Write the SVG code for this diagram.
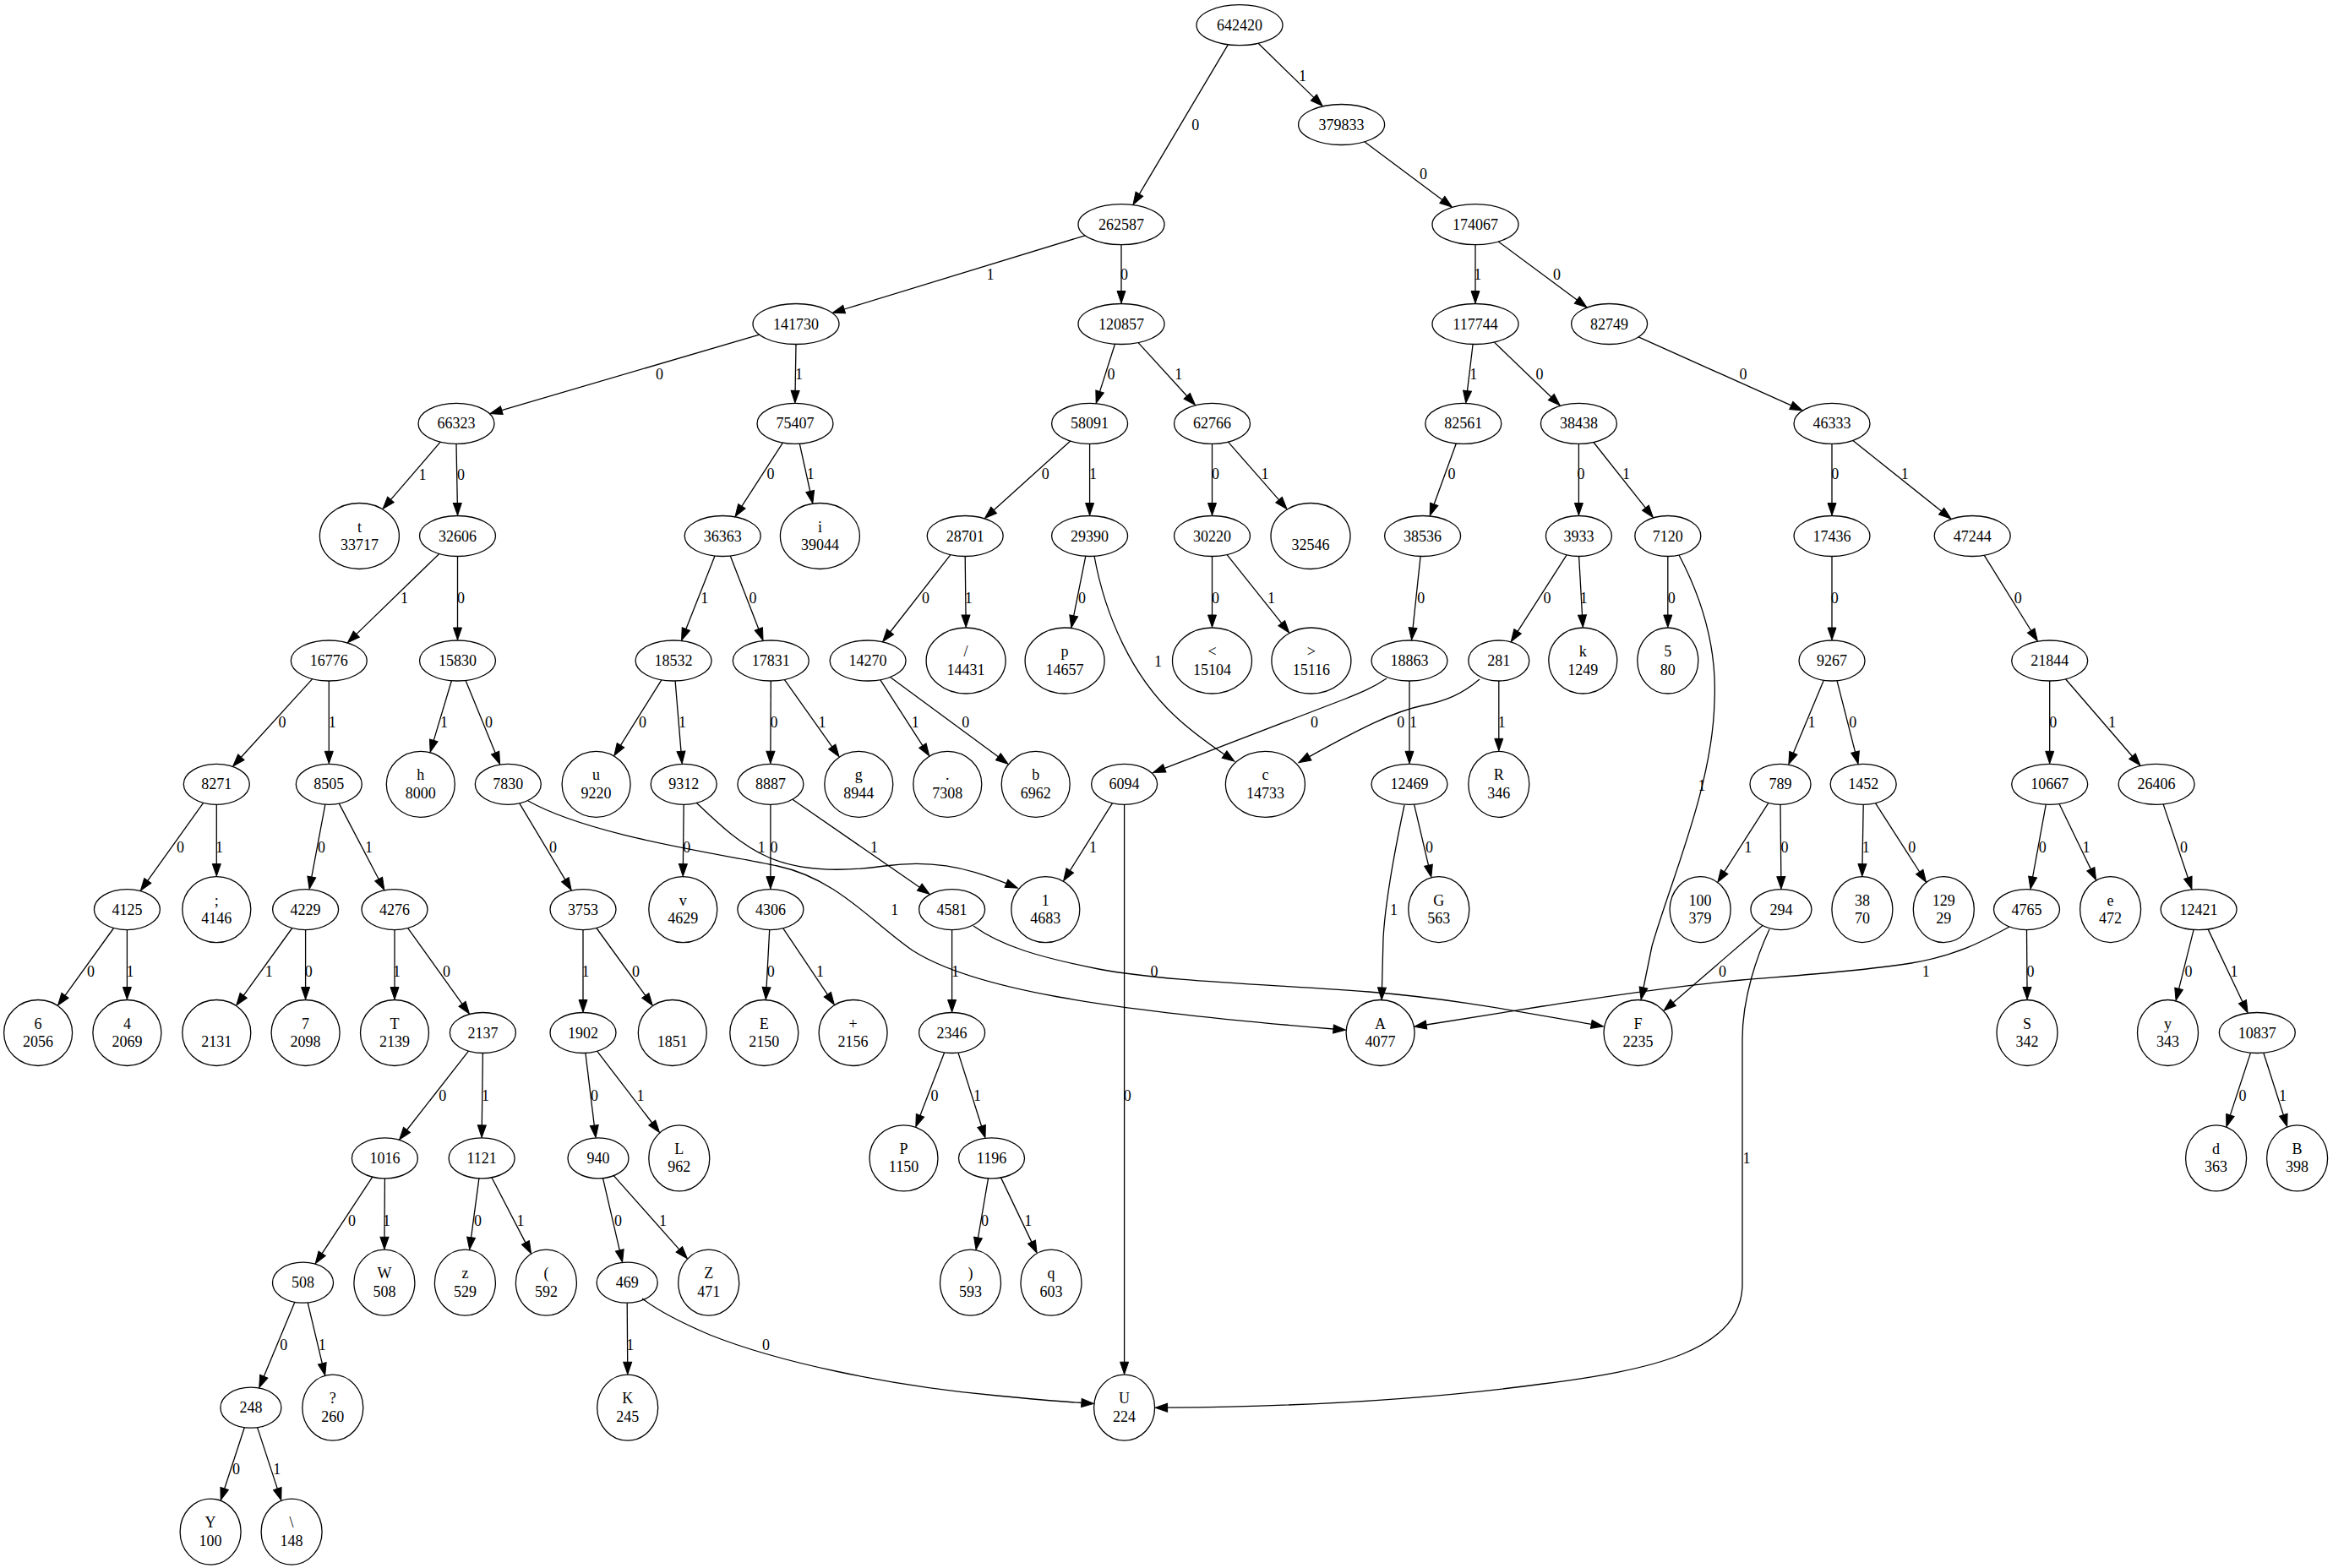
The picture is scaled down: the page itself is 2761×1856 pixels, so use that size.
<svg xmlns="http://www.w3.org/2000/svg" width="2761" height="1856" viewBox="0 0 2761 1856">
<style>
.node ellipse{fill:none;stroke:#000;stroke-width:1.3}
text{font-family:"Liberation Serif","Times New Roman",serif;font-size:18px;text-anchor:middle;fill:#000}
.edge path{fill:none;stroke:#000;stroke-width:1.3;marker-end:url(#arr)}
</style>
<defs>
<marker id="arr" markerUnits="userSpaceOnUse" markerWidth="16" markerHeight="12" refX="0.5" refY="6" orient="auto" overflow="visible">
<path d="M0.5,1 L15,6 L0.5,11 z" fill="#000" stroke="#000" stroke-width="1"/>
</marker>
</defs>
<rect width="2761" height="1856" fill="#fff"/>
<g id="edges">
<g class="edge"><path d="M1453.3,52.8 L1348.4,229.7"/><text x="1414.8" y="154.3">0</text></g>
<g class="edge"><path d="M1489.1,51.3 L1554.8,115.4"/><text x="1541.6" y="96.2">1</text></g>
<g class="edge"><path d="M1614.8,167.8 L1706.8,236.4"/><text x="1684.5" y="212.4">0</text></g>
<g class="edge"><path d="M1284.2,278.8 L999.1,366"/><text x="1172.1" y="331">1</text></g>
<g class="edge"><path d="M1327,289.7 L1327,344.5"/><text x="1330.6" y="331">0</text></g>
<g class="edge"><path d="M1746,289.7 L1746,344.5"/><text x="1748.8" y="331">1</text></g>
<g class="edge"><path d="M1773.3,286 L1866.3,355.1"/><text x="1842.5" y="331">0</text></g>
<g class="edge"><path d="M898.7,396.2 L593.8,485.6"/><text x="780.6" y="448.9">0</text></g>
<g class="edge"><path d="M942,407.5 L941.1,462.4"/><text x="945.4" y="448.9">1</text></g>
<g class="edge"><path d="M1319.5,407.2 L1301.6,463.4"/><text x="1315" y="448.9">0</text></g>
<g class="edge"><path d="M1347.1,405.6 L1404.7,468.7"/><text x="1394.7" y="448.9">1</text></g>
<g class="edge"><path d="M1743.1,407.5 L1736.5,462.6"/><text x="1743.8" y="448.9">1</text></g>
<g class="edge"><path d="M1768.4,405.1 L1835.8,470"/><text x="1822" y="448.9">0</text></g>
<g class="edge"><path d="M1939.1,398.9 L2119.8,479.9"/><text x="2063" y="448.9">0</text></g>
<g class="edge"><path d="M521.2,523.2 L462.5,591.4"/><text x="500" y="567.5">1</text></g>
<g class="edge"><path d="M540,525.4 L541.3,595.5"/><text x="545.5" y="567.5">0</text></g>
<g class="edge"><path d="M926.4,524.1 L877.9,599.2"/><text x="911.9" y="566.7">0</text></g>
<g class="edge"><path d="M946.3,525.2 L958.7,581.5"/><text x="959.2" y="566.7">1</text></g>
<g class="edge"><path d="M1266.7,522.1 L1176.2,603.8"/><text x="1237.3" y="566.7">0</text></g>
<g class="edge"><path d="M1289.6,525.4 L1289.6,595.5"/><text x="1293.6" y="566.7">1</text></g>
<g class="edge"><path d="M1434.5,525.4 L1434.5,595.5"/><text x="1438.5" y="566.7">0</text></g>
<g class="edge"><path d="M1453.5,523.1 L1513.5,591.6"/><text x="1497" y="566.7">1</text></g>
<g class="edge"><path d="M1723.3,525 L1697.2,596.8"/><text x="1718" y="566.7">0</text></g>
<g class="edge"><path d="M1868.4,525.4 L1868.4,595.5"/><text x="1871" y="566.7">0</text></g>
<g class="edge"><path d="M1885.9,523.5 L1947.4,601.2"/><text x="1924.6" y="566.7">1</text></g>
<g class="edge"><path d="M2168,525.4 L2168,595.5"/><text x="2171.7" y="566.7">0</text></g>
<g class="edge"><path d="M2192.9,521.4 L2297.6,605.1"/><text x="2254.3" y="566.7">1</text></g>
<g class="edge"><path d="M519.8,655.5 L421.8,750.6"/><text x="478.6" y="714">1</text></g>
<g class="edge"><path d="M541.5,658.5 L541.5,743"/><text x="545.5" y="714">0</text></g>
<g class="edge"><path d="M846,658 L811.9,744.5"/><text x="833.8" y="714">1</text></g>
<g class="edge"><path d="M864.3,658 L897.8,744.5"/><text x="890.9" y="714">0</text></g>
<g class="edge"><path d="M1124.9,656.7 L1053.6,748"/><text x="1095.4" y="714">0</text></g>
<g class="edge"><path d="M1142.2,658.5 L1143,728"/><text x="1146.3" y="714">1</text></g>
<g class="edge"><path d="M1284.8,658.4 L1270.7,728.8"/><text x="1280.6" y="714">0</text></g>
<g class="edge"><path d="M1295,658 C1308,730 1340,800 1390,847 C1410,866 1430,880 1449,893"/><text x="1370.4" y="788.8">1</text></g>
<g class="edge"><path d="M1434.5,658.5 L1434.5,728"/><text x="1438.5" y="714">0</text></g>
<g class="edge"><path d="M1452.1,656.6 L1516.7,737.7"/><text x="1504.6" y="714">1</text></g>
<g class="edge"><path d="M1681.1,658.5 L1672.1,743.1"/><text x="1681.8" y="714">0</text></g>
<g class="edge"><path d="M1854.1,656.8 L1796.1,747.3"/><text x="1830.9" y="714">0</text></g>
<g class="edge"><path d="M1868.6,658.5 L1872.5,728"/><text x="1874.2" y="714">1</text></g>
<g class="edge"><path d="M1973.8,658.5 L1973.8,728"/><text x="1978.2" y="714">0</text></g>
<g class="edge"><path d="M1987,657 C2015,710 2032,770 2029,830 C2027,930 1978,1040 1955,1120 L1945,1169"/><text x="2014" y="935.5">1</text></g>
<g class="edge"><path d="M2168,658.5 L2168,743"/><text x="2171.3" y="714">0</text></g>
<g class="edge"><path d="M2348.3,657.3 L2403.7,746.5"/><text x="2388.2" y="714">0</text></g>
<g class="edge"><path d="M369.7,803.6 L285.4,896.3"/><text x="333.9" y="861.2">0</text></g>
<g class="edge"><path d="M389.3,806 L389.3,889.3"/><text x="393.3" y="861.2">1</text></g>
<g class="edge"><path d="M534.4,805.7 L513.3,876.4"/><text x="525.4" y="861.2">1</text></g>
<g class="edge"><path d="M551.1,805.5 L586.1,891.1"/><text x="578.6" y="861.2">0</text></g>
<g class="edge"><path d="M782.9,804.8 L734.5,882.2"/><text x="760.5" y="861.2">0</text></g>
<g class="edge"><path d="M799.1,806 L806,889.4"/><text x="807.4" y="861.2">1</text></g>
<g class="edge"><path d="M912.3,806 L911.9,889.3"/><text x="915.9" y="861.2">0</text></g>
<g class="edge"><path d="M928.3,804.4 L984.7,883.9"/><text x="973" y="861.2">1</text></g>
<g class="edge"><path d="M1041.7,804.7 L1091.9,882.6"/><text x="1083.3" y="861.2">1</text></g>
<g class="edge"><path d="M1053.5,801.4 L1181.4,895.7"/><text x="1142.7" y="861.2">0</text></g>
<g class="edge"><path d="M1641,803 C1625,814 1610,820 1590,828 L1378.2,909.3"/><text x="1555.4" y="861.2">0</text></g>
<g class="edge"><path d="M1668,806 L1668,889.3"/><text x="1672.4" y="861.2">1</text></g>
<g class="edge"><path d="M1751,804 C1730,822 1710,830 1684,835 C1650,842 1610,862 1549.5,895.6"/><text x="1657.7" y="861.2">0</text></g>
<g class="edge"><path d="M1773.8,806 L1773.8,874.3"/><text x="1777.3" y="861.2">1</text></g>
<g class="edge"><path d="M2158.3,805.3 L2122.4,891.3"/><text x="2144" y="861.2">1</text></g>
<g class="edge"><path d="M2174,805.7 L2195.5,890.1"/><text x="2192.7" y="861.2">0</text></g>
<g class="edge"><path d="M2425.7,806 L2425.7,889.3"/><text x="2429.7" y="861.2">0</text></g>
<g class="edge"><path d="M2444.5,803.8 L2523.5,895.2"/><text x="2499.4" y="861.2">1</text></g>
<g class="edge"><path d="M240.6,950.3 L174.8,1042.4"/><text x="213.4" y="1009.4">0</text></g>
<g class="edge"><path d="M256.3,952.3 L256.3,1022.6"/><text x="259.4" y="1009.4">1</text></g>
<g class="edge"><path d="M384.9,952.2 L368.8,1038"/><text x="380.4" y="1009.4">0</text></g>
<g class="edge"><path d="M401.3,951.1 L448.1,1040.5"/><text x="436.6" y="1009.4">1</text></g>
<g class="edge"><path d="M614.8,950.8 L668.8,1041.2"/><text x="654.5" y="1009.4">0</text></g>
<g class="edge"><path d="M625,948 C700,990 850,1010 920,1025 C990,1040 1030,1090 1080,1125 C1150,1170 1300,1195 1578,1218"/><text x="1058.8" y="1082.6">1</text></g>
<g class="edge"><path d="M809.2,952.3 L808.4,1022.6"/><text x="812.8" y="1009.4">0</text></g>
<g class="edge"><path d="M824,950 C845,970 875,1000 910,1015 C945,1030 990,1033 1047,1025 C1100,1018 1140,1025 1191,1045.7"/><text x="901.2" y="1009.4">1</text></g>
<g class="edge"><path d="M911.9,952.3 L911.9,1037.6"/><text x="915.9" y="1009.4">0</text></g>
<g class="edge"><path d="M937.9,946.2 L1088.3,1050.2"/><text x="1034.6" y="1009.4">1</text></g>
<g class="edge"><path d="M1316.5,950.7 L1266.3,1030.5"/><text x="1293.6" y="1009.4">1</text></g>
<g class="edge"><path d="M1330.6,952.3 L1330.6,1612.2"/><text x="1334.2" y="1303.1">0</text></g>
<g class="edge"><path d="M1662,953 C1652,1000 1640,1060 1637,1110 L1635.5,1169"/><text x="1649.6" y="1082.6">1</text></g>
<g class="edge"><path d="M1673.6,952.1 L1690.5,1024.2"/><text x="1691.6" y="1009.4">0</text></g>
<g class="edge"><path d="M2092.9,950.4 L2040.7,1031.9"/><text x="2068.8" y="1009.4">1</text></g>
<g class="edge"><path d="M2107,952.3 L2107.8,1037.6"/><text x="2111.9" y="1009.4">0</text></g>
<g class="edge"><path d="M2205.2,952.3 L2204,1022.6"/><text x="2208.3" y="1009.4">1</text></g>
<g class="edge"><path d="M2219.5,950.6 L2271.7,1032"/><text x="2262.8" y="1009.4">0</text></g>
<g class="edge"><path d="M2421.3,952.2 L2405.6,1038"/><text x="2417.3" y="1009.4">0</text></g>
<g class="edge"><path d="M2437,951.5 L2474.3,1028.6"/><text x="2469" y="1009.4">1</text></g>
<g class="edge"><path d="M2560.1,951.9 L2589.3,1038.8"/><text x="2584.6" y="1009.4">0</text></g>
<g class="edge"><path d="M134.6,1098.5 L77,1178.3"/><text x="107.6" y="1155.7">0</text></g>
<g class="edge"><path d="M150.4,1100.6 L150.4,1168.5"/><text x="154" y="1155.7">1</text></g>
<g class="edge"><path d="M345.8,1098.5 L288.2,1178.3"/><text x="318.3" y="1155.7">1</text></g>
<g class="edge"><path d="M361.6,1100.6 L361.6,1168.5"/><text x="365.2" y="1155.7">0</text></g>
<g class="edge"><path d="M467,1100.6 L467,1168.5"/><text x="469.6" y="1155.7">1</text></g>
<g class="edge"><path d="M482.7,1098.6 L547,1188.3"/><text x="528.6" y="1155.7">0</text></g>
<g class="edge"><path d="M690,1100.6 L690,1183.5"/><text x="692.9" y="1155.7">1</text></g>
<g class="edge"><path d="M705.9,1098.5 L763.8,1178.4"/><text x="752.5" y="1155.7">0</text></g>
<g class="edge"><path d="M910.7,1100.6 L907.1,1168.6"/><text x="912.3" y="1155.7">0</text></g>
<g class="edge"><path d="M926.8,1098.8 L979.3,1177.2"/><text x="970.4" y="1155.7">1</text></g>
<g class="edge"><path d="M1126.6,1100.6 L1126.6,1183.5"/><text x="1130.6" y="1155.7">1</text></g>
<g class="edge"><path d="M1152,1096 C1185,1120 1230,1133 1300,1147 C1380,1162 1500,1165 1620,1174 C1720,1182 1800,1198 1883.3,1212.4"/><text x="1365.9" y="1155.7">0</text></g>
<g class="edge"><path d="M2085.9,1095.6 L1980.1,1186.7"/><text x="2038.5" y="1155.7">0</text></g>
<g class="edge"><path d="M2094,1100 C2080,1130 2062,1180 2062,1230 L2062,1520 C2062,1600 1950,1622 1826,1638 C1700,1655 1550,1665 1381.6,1666.2"/><text x="2067" y="1377.3">1</text></g>
<g class="edge"><path d="M2398.5,1100.6 L2399,1168.5"/><text x="2403" y="1155.7">0</text></g>
<g class="edge"><path d="M2378,1097 C2350,1112 2320,1130 2262,1140 C2200,1150 2120,1155 2061,1160 C1980,1167 1900,1180 1826,1191 C1770,1200 1720,1208 1688,1213"/><text x="2279.3" y="1155.7">1</text></g>
<g class="edge"><path d="M2596.1,1100.4 L2578.6,1170.3"/><text x="2590" y="1155.7">0</text></g>
<g class="edge"><path d="M2613.1,1099.9 L2653.9,1185.7"/><text x="2644" y="1155.7">1</text></g>
<g class="edge"><path d="M554.5,1244.1 L481.5,1337.5"/><text x="523.7" y="1303.1">0</text></g>
<g class="edge"><path d="M571.4,1246.5 L570.3,1331.9"/><text x="574.6" y="1303.1">1</text></g>
<g class="edge"><path d="M692.9,1246.4 L703.3,1332.1"/><text x="703.4" y="1303.1">0</text></g>
<g class="edge"><path d="M706.6,1244.2 L771.7,1329"/><text x="757.9" y="1303.1">1</text></g>
<g class="edge"><path d="M1117.6,1245.9 L1089,1320.3"/><text x="1106.1" y="1303.1">0</text></g>
<g class="edge"><path d="M1134,1246.1 L1161.6,1333"/><text x="1156.5" y="1303.1">1</text></g>
<g class="edge"><path d="M2663.5,1246.1 L2639.4,1319.9"/><text x="2653.9" y="1303.1">0</text></g>
<g class="edge"><path d="M2678.8,1246.2 L2702.3,1319.7"/><text x="2701.6" y="1303.1">1</text></g>
<g class="edge"><path d="M440.8,1393.2 L381.2,1483.7"/><text x="416.5" y="1451.2">0</text></g>
<g class="edge"><path d="M455.4,1394.9 L455,1464.2"/><text x="457.6" y="1451.2">1</text></g>
<g class="edge"><path d="M566.9,1394.8 L557.6,1464.7"/><text x="565.6" y="1451.2">0</text></g>
<g class="edge"><path d="M581.9,1393.8 L621.9,1470.9"/><text x="616.1" y="1451.2">1</text></g>
<g class="edge"><path d="M713.5,1394.6 L733.3,1479.9"/><text x="731.5" y="1451.2">0</text></g>
<g class="edge"><path d="M726.3,1391.6 L803.8,1478.9"/><text x="784.6" y="1451.2">1</text></g>
<g class="edge"><path d="M1169.5,1394.8 L1157.5,1465"/><text x="1165.4" y="1451.2">0</text></g>
<g class="edge"><path d="M1184.5,1393.9 L1220.9,1470.1"/><text x="1216.8" y="1451.2">1</text></g>
<g class="edge"><path d="M348.9,1541.3 L312.3,1629.2"/><text x="335.7" y="1598.4">0</text></g>
<g class="edge"><path d="M364.2,1541.9 L381.3,1613.8"/><text x="381.3" y="1598.4">1</text></g>
<g class="edge"><path d="M742.2,1542.2 L742.7,1612.2"/><text x="745.8" y="1598.4">1</text></g>
<g class="edge"><path d="M760,1537 C778,1551 800,1563 840,1580 C920,1612 1050,1640 1180,1652 C1230,1657 1255,1659 1279.9,1660.5"/><text x="906.5" y="1598.4">0</text></g>
<g class="edge"><path d="M289.3,1689.7 L265.7,1762"/><text x="279.5" y="1745.3">0</text></g>
<g class="edge"><path d="M304.6,1689.6 L328.3,1762.1"/><text x="327.7" y="1745.3">1</text></g>
</g>
<g id="nodes">
<g id="n642420" class="node"><ellipse cx="1467" cy="29.7" rx="51" ry="24"/><text x="1467" y="35.7">642420</text></g>
<g id="n379833" class="node"><ellipse cx="1587.6" cy="147.5" rx="51" ry="24"/><text x="1587.6" y="153.5">379833</text></g>
<g id="n262587" class="node"><ellipse cx="1327" cy="265.7" rx="51" ry="24"/><text x="1327" y="271.7">262587</text></g>
<g id="n174067" class="node"><ellipse cx="1746" cy="265.7" rx="51" ry="24"/><text x="1746" y="271.7">174067</text></g>
<g id="n141730" class="node"><ellipse cx="942" cy="383.5" rx="51" ry="24"/><text x="942" y="389.5">141730</text></g>
<g id="n120857" class="node"><ellipse cx="1327" cy="383.5" rx="51" ry="24"/><text x="1327" y="389.5">120857</text></g>
<g id="n117744" class="node"><ellipse cx="1746" cy="383.5" rx="51" ry="24"/><text x="1746" y="389.5">117744</text></g>
<g id="n82749" class="node"><ellipse cx="1904.6" cy="383.5" rx="45" ry="24"/><text x="1904.6" y="389.5">82749</text></g>
<g id="n66323" class="node"><ellipse cx="540" cy="501.4" rx="45" ry="24"/><text x="540" y="507.4">66323</text></g>
<g id="n75407" class="node"><ellipse cx="941" cy="501.4" rx="45" ry="24"/><text x="941" y="507.4">75407</text></g>
<g id="n58091" class="node"><ellipse cx="1289.6" cy="501.4" rx="45" ry="24"/><text x="1289.6" y="507.4">58091</text></g>
<g id="n62766" class="node"><ellipse cx="1434.5" cy="501.4" rx="45" ry="24"/><text x="1434.5" y="507.4">62766</text></g>
<g id="n82561" class="node"><ellipse cx="1731.8" cy="501.4" rx="45" ry="24"/><text x="1731.8" y="507.4">82561</text></g>
<g id="n38438" class="node"><ellipse cx="1868.4" cy="501.4" rx="45" ry="24"/><text x="1868.4" y="507.4">38438</text></g>
<g id="n46333" class="node"><ellipse cx="2168" cy="501.4" rx="45" ry="24"/><text x="2168" y="507.4">46333</text></g>
<g id="leaf-t" class="node"><ellipse cx="425.4" cy="634.5" rx="47" ry="39"/><text x="425.4" y="629.5">t</text><text x="425.4" y="651">33717</text></g>
<g id="n32606" class="node"><ellipse cx="541.5" cy="634.5" rx="45" ry="24"/><text x="541.5" y="640.5">32606</text></g>
<g id="n36363" class="node"><ellipse cx="855.2" cy="634.5" rx="45" ry="24"/><text x="855.2" y="640.5">36363</text></g>
<g id="leaf-i" class="node"><ellipse cx="970.4" cy="634.5" rx="47" ry="39"/><text x="970.4" y="629.5">i</text><text x="970.4" y="651">39044</text></g>
<g id="n28701" class="node"><ellipse cx="1142.2" cy="634.5" rx="45" ry="24"/><text x="1142.2" y="640.5">28701</text></g>
<g id="n29390" class="node"><ellipse cx="1289.6" cy="634.5" rx="45" ry="24"/><text x="1289.6" y="640.5">29390</text></g>
<g id="n30220" class="node"><ellipse cx="1434.5" cy="634.5" rx="45" ry="24"/><text x="1434.5" y="640.5">30220</text></g>
<g id="leaf-space" class="node"><ellipse cx="1551" cy="634.5" rx="47" ry="39"/><text x="1551" y="651">32546</text></g>
<g id="n38536" class="node"><ellipse cx="1683.6" cy="634.5" rx="45" ry="24"/><text x="1683.6" y="640.5">38536</text></g>
<g id="n3933" class="node"><ellipse cx="1868.4" cy="634.5" rx="39" ry="24"/><text x="1868.4" y="640.5">3933</text></g>
<g id="n7120" class="node"><ellipse cx="1973.8" cy="634.5" rx="39" ry="24"/><text x="1973.8" y="640.5">7120</text></g>
<g id="n17436" class="node"><ellipse cx="2168" cy="634.5" rx="45" ry="24"/><text x="2168" y="640.5">17436</text></g>
<g id="n47244" class="node"><ellipse cx="2334.2" cy="634.5" rx="45" ry="24"/><text x="2334.2" y="640.5">47244</text></g>
<g id="n16776" class="node"><ellipse cx="389.3" cy="782" rx="45" ry="24"/><text x="389.3" y="788">16776</text></g>
<g id="n15830" class="node"><ellipse cx="541.5" cy="782" rx="45" ry="24"/><text x="541.5" y="788">15830</text></g>
<g id="n18532" class="node"><ellipse cx="797.1" cy="782" rx="45" ry="24"/><text x="797.1" y="788">18532</text></g>
<g id="n17831" class="node"><ellipse cx="912.3" cy="782" rx="45" ry="24"/><text x="912.3" y="788">17831</text></g>
<g id="n14270" class="node"><ellipse cx="1027.1" cy="782" rx="45" ry="24"/><text x="1027.1" y="788">14270</text></g>
<g id="leaf-slash" class="node"><ellipse cx="1143.1" cy="782" rx="47" ry="39"/><text x="1143.1" y="777">/</text><text x="1143.1" y="798.5">14431</text></g>
<g id="leaf-p" class="node"><ellipse cx="1260.1" cy="782" rx="47" ry="39"/><text x="1260.1" y="777">p</text><text x="1260.1" y="798.5">14657</text></g>
<g id="leaf-lt" class="node"><ellipse cx="1434.5" cy="782" rx="47" ry="39"/><text x="1434.5" y="777">&lt;</text><text x="1434.5" y="798.5">15104</text></g>
<g id="leaf-gt" class="node"><ellipse cx="1551.9" cy="782" rx="47" ry="39"/><text x="1551.9" y="777">&gt;</text><text x="1551.9" y="798.5">15116</text></g>
<g id="n18863" class="node"><ellipse cx="1668" cy="782" rx="45" ry="24"/><text x="1668" y="788">18863</text></g>
<g id="n281" class="node"><ellipse cx="1773.8" cy="782" rx="36" ry="24"/><text x="1773.8" y="788">281</text></g>
<g id="leaf-k" class="node"><ellipse cx="1873.3" cy="782" rx="40.5" ry="39"/><text x="1873.3" y="777">k</text><text x="1873.3" y="798.5">1249</text></g>
<g id="leaf-5" class="node"><ellipse cx="1973.8" cy="782" rx="36" ry="39"/><text x="1973.8" y="777">5</text><text x="1973.8" y="798.5">80</text></g>
<g id="n9267" class="node"><ellipse cx="2168" cy="782" rx="39" ry="24"/><text x="2168" y="788">9267</text></g>
<g id="n21844" class="node"><ellipse cx="2425.7" cy="782" rx="45" ry="24"/><text x="2425.7" y="788">21844</text></g>
<g id="n8271" class="node"><ellipse cx="256.3" cy="928.3" rx="39" ry="24"/><text x="256.3" y="934.3">8271</text></g>
<g id="n8505" class="node"><ellipse cx="389.3" cy="928.3" rx="39" ry="24"/><text x="389.3" y="934.3">8505</text></g>
<g id="leaf-h" class="node"><ellipse cx="497.8" cy="928.3" rx="40.5" ry="39"/><text x="497.8" y="923.3">h</text><text x="497.8" y="944.8">8000</text></g>
<g id="n7830" class="node"><ellipse cx="601.3" cy="928.3" rx="39" ry="24"/><text x="601.3" y="934.3">7830</text></g>
<g id="leaf-u" class="node"><ellipse cx="705.6" cy="928.3" rx="40.5" ry="39"/><text x="705.6" y="923.3">u</text><text x="705.6" y="944.8">9220</text></g>
<g id="n9312" class="node"><ellipse cx="809.2" cy="928.3" rx="39" ry="24"/><text x="809.2" y="934.3">9312</text></g>
<g id="n8887" class="node"><ellipse cx="911.9" cy="928.3" rx="39" ry="24"/><text x="911.9" y="934.3">8887</text></g>
<g id="leaf-g" class="node"><ellipse cx="1016.3" cy="928.3" rx="40.5" ry="39"/><text x="1016.3" y="923.3">g</text><text x="1016.3" y="944.8">8944</text></g>
<g id="leaf-dot" class="node"><ellipse cx="1121.3" cy="928.3" rx="40.5" ry="39"/><text x="1121.3" y="923.3">.</text><text x="1121.3" y="944.8">7308</text></g>
<g id="leaf-b" class="node"><ellipse cx="1225.7" cy="928.3" rx="40.5" ry="39"/><text x="1225.7" y="923.3">b</text><text x="1225.7" y="944.8">6962</text></g>
<g id="n6094" class="node"><ellipse cx="1330.6" cy="928.3" rx="39" ry="24"/><text x="1330.6" y="934.3">6094</text></g>
<g id="leaf-c" class="node"><ellipse cx="1497.4" cy="928.3" rx="47" ry="39"/><text x="1497.4" y="923.3">c</text><text x="1497.4" y="944.8">14733</text></g>
<g id="n12469" class="node"><ellipse cx="1668" cy="928.3" rx="45" ry="24"/><text x="1668" y="934.3">12469</text></g>
<g id="leaf-R" class="node"><ellipse cx="1773.8" cy="928.3" rx="36" ry="39"/><text x="1773.8" y="923.3">R</text><text x="1773.8" y="944.8">346</text></g>
<g id="n789" class="node"><ellipse cx="2107" cy="928.3" rx="36" ry="24"/><text x="2107" y="934.3">789</text></g>
<g id="n1452" class="node"><ellipse cx="2205.2" cy="928.3" rx="39" ry="24"/><text x="2205.2" y="934.3">1452</text></g>
<g id="n10667" class="node"><ellipse cx="2425.7" cy="928.3" rx="45" ry="24"/><text x="2425.7" y="934.3">10667</text></g>
<g id="n26406" class="node"><ellipse cx="2552.1" cy="928.3" rx="45" ry="24"/><text x="2552.1" y="934.3">26406</text></g>
<g id="n4125" class="node"><ellipse cx="150.4" cy="1076.6" rx="39" ry="24"/><text x="150.4" y="1082.6">4125</text></g>
<g id="leaf-semicolon" class="node"><ellipse cx="256.3" cy="1076.6" rx="40.5" ry="39"/><text x="256.3" y="1071.6">;</text><text x="256.3" y="1093.1">4146</text></g>
<g id="n4229" class="node"><ellipse cx="361.6" cy="1076.6" rx="39" ry="24"/><text x="361.6" y="1082.6">4229</text></g>
<g id="n4276" class="node"><ellipse cx="467" cy="1076.6" rx="39" ry="24"/><text x="467" y="1082.6">4276</text></g>
<g id="n3753" class="node"><ellipse cx="690" cy="1076.6" rx="39" ry="24"/><text x="690" y="1082.6">3753</text></g>
<g id="leaf-v" class="node"><ellipse cx="808.3" cy="1076.6" rx="40.5" ry="39"/><text x="808.3" y="1071.6">v</text><text x="808.3" y="1093.1">4629</text></g>
<g id="n4306" class="node"><ellipse cx="911.9" cy="1076.6" rx="39" ry="24"/><text x="911.9" y="1082.6">4306</text></g>
<g id="n4581" class="node"><ellipse cx="1126.6" cy="1076.6" rx="39" ry="24"/><text x="1126.6" y="1082.6">4581</text></g>
<g id="leaf-1" class="node"><ellipse cx="1237.3" cy="1076.6" rx="40.5" ry="39"/><text x="1237.3" y="1071.6">1</text><text x="1237.3" y="1093.1">4683</text></g>
<g id="leaf-G" class="node"><ellipse cx="1702.8" cy="1076.6" rx="36" ry="39"/><text x="1702.8" y="1071.6">G</text><text x="1702.8" y="1093.1">563</text></g>
<g id="leaf-100" class="node"><ellipse cx="2012.1" cy="1076.6" rx="36" ry="39"/><text x="2012.1" y="1071.6">100</text><text x="2012.1" y="1093.1">379</text></g>
<g id="n294" class="node"><ellipse cx="2107.9" cy="1076.6" rx="36" ry="24"/><text x="2107.9" y="1082.6">294</text></g>
<g id="leaf-38" class="node"><ellipse cx="2203.9" cy="1076.6" rx="36" ry="39"/><text x="2203.9" y="1071.6">38</text><text x="2203.9" y="1093.1">70</text></g>
<g id="leaf-129" class="node"><ellipse cx="2300.3" cy="1076.6" rx="36" ry="39"/><text x="2300.3" y="1071.6">129</text><text x="2300.3" y="1093.1">29</text></g>
<g id="n4765" class="node"><ellipse cx="2398.5" cy="1076.6" rx="39" ry="24"/><text x="2398.5" y="1082.6">4765</text></g>
<g id="leaf-e" class="node"><ellipse cx="2497.6" cy="1076.6" rx="36" ry="39"/><text x="2497.6" y="1071.6">e</text><text x="2497.6" y="1093.1">472</text></g>
<g id="n12421" class="node"><ellipse cx="2602.1" cy="1076.6" rx="45" ry="24"/><text x="2602.1" y="1082.6">12421</text></g>
<g id="leaf-6" class="node"><ellipse cx="45.1" cy="1222.5" rx="40.5" ry="39"/><text x="45.1" y="1217.5">6</text><text x="45.1" y="1239">2056</text></g>
<g id="leaf-4" class="node"><ellipse cx="150.4" cy="1222.5" rx="40.5" ry="39"/><text x="150.4" y="1217.5">4</text><text x="150.4" y="1239">2069</text></g>
<g id="leaf-blank2131" class="node"><ellipse cx="256.3" cy="1222.5" rx="40.5" ry="39"/><text x="256.3" y="1239">2131</text></g>
<g id="leaf-7" class="node"><ellipse cx="361.6" cy="1222.5" rx="40.5" ry="39"/><text x="361.6" y="1217.5">7</text><text x="361.6" y="1239">2098</text></g>
<g id="leaf-T" class="node"><ellipse cx="467" cy="1222.5" rx="40.5" ry="39"/><text x="467" y="1217.5">T</text><text x="467" y="1239">2139</text></g>
<g id="n2137" class="node"><ellipse cx="571.4" cy="1222.5" rx="39" ry="24"/><text x="571.4" y="1228.5">2137</text></g>
<g id="n1902" class="node"><ellipse cx="690" cy="1222.5" rx="39" ry="24"/><text x="690" y="1228.5">1902</text></g>
<g id="leaf-blank1851" class="node"><ellipse cx="795.8" cy="1222.5" rx="40.5" ry="39"/><text x="795.8" y="1239">1851</text></g>
<g id="leaf-E" class="node"><ellipse cx="904.3" cy="1222.5" rx="40.5" ry="39"/><text x="904.3" y="1217.5">E</text><text x="904.3" y="1239">2150</text></g>
<g id="leaf-plus" class="node"><ellipse cx="1009.6" cy="1222.5" rx="40.5" ry="39"/><text x="1009.6" y="1217.5">+</text><text x="1009.6" y="1239">2156</text></g>
<g id="n2346" class="node"><ellipse cx="1126.6" cy="1222.5" rx="39" ry="24"/><text x="1126.6" y="1228.5">2346</text></g>
<g id="leaf-A" class="node"><ellipse cx="1633.6" cy="1222.5" rx="40.5" ry="39"/><text x="1633.6" y="1217.5">A</text><text x="1633.6" y="1239">4077</text></g>
<g id="leaf-F" class="node"><ellipse cx="1938.5" cy="1222.5" rx="40.5" ry="39"/><text x="1938.5" y="1217.5">F</text><text x="1938.5" y="1239">2235</text></g>
<g id="leaf-S" class="node"><ellipse cx="2399" cy="1222.5" rx="36" ry="39"/><text x="2399" y="1217.5">S</text><text x="2399" y="1239">342</text></g>
<g id="leaf-y" class="node"><ellipse cx="2565.5" cy="1222.5" rx="36" ry="39"/><text x="2565.5" y="1217.5">y</text><text x="2565.5" y="1239">343</text></g>
<g id="n10837" class="node"><ellipse cx="2671.3" cy="1222.5" rx="45" ry="24"/><text x="2671.3" y="1228.5">10837</text></g>
<g id="n1016" class="node"><ellipse cx="455.4" cy="1370.9" rx="39" ry="24"/><text x="455.4" y="1376.9">1016</text></g>
<g id="n1121" class="node"><ellipse cx="570.1" cy="1370.9" rx="39" ry="24"/><text x="570.1" y="1376.9">1121</text></g>
<g id="n940" class="node"><ellipse cx="708" cy="1370.9" rx="36" ry="24"/><text x="708" y="1376.9">940</text></g>
<g id="leaf-L" class="node"><ellipse cx="803.8" cy="1370.9" rx="36" ry="39"/><text x="803.8" y="1365.9">L</text><text x="803.8" y="1387.4">962</text></g>
<g id="leaf-P" class="node"><ellipse cx="1069.5" cy="1370.9" rx="40.5" ry="39"/><text x="1069.5" y="1365.9">P</text><text x="1069.5" y="1387.4">1150</text></g>
<g id="n1196" class="node"><ellipse cx="1173.5" cy="1370.9" rx="39" ry="24"/><text x="1173.5" y="1376.9">1196</text></g>
<g id="leaf-d" class="node"><ellipse cx="2622.6" cy="1370.9" rx="36" ry="39"/><text x="2622.6" y="1365.9">d</text><text x="2622.6" y="1387.4">363</text></g>
<g id="leaf-B" class="node"><ellipse cx="2718.6" cy="1370.9" rx="36" ry="39"/><text x="2718.6" y="1365.9">B</text><text x="2718.6" y="1387.4">398</text></g>
<g id="n508" class="node"><ellipse cx="358.5" cy="1518.2" rx="36" ry="24"/><text x="358.5" y="1524.2">508</text></g>
<g id="leaf-W" class="node"><ellipse cx="454.9" cy="1518.2" rx="36" ry="39"/><text x="454.9" y="1513.2">W</text><text x="454.9" y="1534.7">508</text></g>
<g id="leaf-z" class="node"><ellipse cx="550.4" cy="1518.2" rx="36" ry="39"/><text x="550.4" y="1513.2">z</text><text x="550.4" y="1534.7">529</text></g>
<g id="leaf-lparen" class="node"><ellipse cx="646.4" cy="1518.2" rx="36" ry="39"/><text x="646.4" y="1513.2">(</text><text x="646.4" y="1534.7">592</text></g>
<g id="n469" class="node"><ellipse cx="742.2" cy="1518.2" rx="36" ry="24"/><text x="742.2" y="1524.2">469</text></g>
<g id="leaf-Z" class="node"><ellipse cx="838.7" cy="1518.2" rx="36" ry="39"/><text x="838.7" y="1513.2">Z</text><text x="838.7" y="1534.7">471</text></g>
<g id="leaf-rparen" class="node"><ellipse cx="1148.5" cy="1518.2" rx="36" ry="39"/><text x="1148.5" y="1513.2">)</text><text x="1148.5" y="1534.7">593</text></g>
<g id="leaf-q" class="node"><ellipse cx="1244" cy="1518.2" rx="36" ry="39"/><text x="1244" y="1513.2">q</text><text x="1244" y="1534.7">603</text></g>
<g id="n248" class="node"><ellipse cx="296.9" cy="1666.2" rx="36" ry="24"/><text x="296.9" y="1672.2">248</text></g>
<g id="leaf-question" class="node"><ellipse cx="393.8" cy="1666.2" rx="36" ry="39"/><text x="393.8" y="1661.2">?</text><text x="393.8" y="1682.7">260</text></g>
<g id="leaf-K" class="node"><ellipse cx="742.7" cy="1666.2" rx="36" ry="39"/><text x="742.7" y="1661.2">K</text><text x="742.7" y="1682.7">245</text></g>
<g id="leaf-U" class="node"><ellipse cx="1330.6" cy="1666.2" rx="36" ry="39"/><text x="1330.6" y="1661.2">U</text><text x="1330.6" y="1682.7">224</text></g>
<g id="leaf-Y" class="node"><ellipse cx="249.1" cy="1813.1" rx="36" ry="39"/><text x="249.1" y="1808.1">Y</text><text x="249.1" y="1829.6">100</text></g>
<g id="leaf-backslash" class="node"><ellipse cx="345.1" cy="1813.1" rx="36" ry="39"/><text x="345.1" y="1808.1">\</text><text x="345.1" y="1829.6">148</text></g>
</g>
</svg>
